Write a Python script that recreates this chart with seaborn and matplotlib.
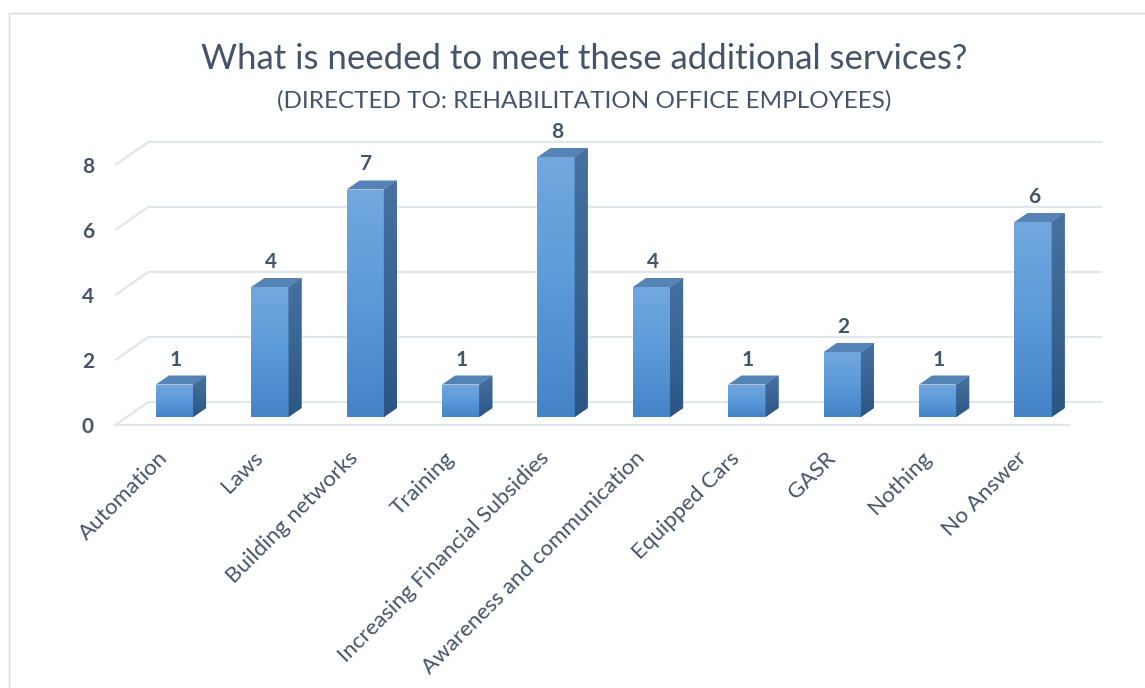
import numpy as np
import pandas as pd
import matplotlib
matplotlib.use("Agg")
import matplotlib.pyplot as plt
import seaborn as sns
from matplotlib.patches import Polygon, Rectangle
from matplotlib.colors import LinearSegmentedColormap

# ---- data -------------------------------------------------------------
categories = ["Automation", "Laws", "Building networks", "Training",
              "Increasing Financial Subsidies", "Awareness and communication",
              "Equipped Cars", "GASR", "Nothing", "No Answer"]
counts = [1, 4, 7, 1, 8, 4, 1, 2, 1, 6]
y_ticks = [0, 2, 4, 6, 8]
title = "What is needed to meet these additional services?"
subtitle = "(DIRECTED TO: REHABILITATION OFFICE EMPLOYEES)"

# ---- figure / style ---------------------------------------------------
W, H, DPI = 1145, 688, 100
sns.set_theme(style="white")
plt.rcParams["font.family"] = ["Lato", "DejaVu Sans"]
TEXT = "#44546a"
GRID = "#e2e5ea"

fig = plt.figure(figsize=(W / DPI, H / DPI), dpi=DPI)
fig.patch.set_facecolor("white")

# plot area (bar plane): category pitch and value scale in pixels
x0_px, unit_x = 174.5, 95.4
base_px, unit_y = 417.0, 32.5
ymax = 9.5
left_px = x0_px - 0.5 * unit_x
ax = fig.add_axes([left_px / W, (H - base_px) / H,
                   10 * unit_x / W, ymax * unit_y / H])

df = pd.DataFrame({"need": categories, "count": counts})
sns.barplot(data=df, x="need", y="count", width=0.39, color="#5b9bd5",
            saturation=1, ax=ax, zorder=3, linewidth=0)
ax.set_xlim(-0.5, len(categories) - 0.5)
ax.set_ylim(0, ymax)
ax.axis("off")


def off(x, y, dx, dy):
    """Data point shifted by a pixel offset, returned in data coords."""
    X, Y = ax.transData.transform((x, y))
    return ax.transData.inverted().transform((X + dx, Y + dy))


FRONT = (-11.5, -8.0)   # front edge of the floor
BACK = (21.5, 15.0)     # back wall
DEPTH = (13.0, 9.0)     # depth of each bar

xl, xr = -0.5, len(categories) - 0.5

# back wall gridlines with the left side-wall diagonals
for v in y_ticks:
    a = off(xl, v, *FRONT)
    b = off(xl, v, *BACK)
    c = off(xr, v, *BACK)
    ax.plot([a[0], b[0], c[0]], [a[1], b[1], c[1]], color=GRID, lw=1.6,
            clip_on=False, zorder=1, solid_capstyle="butt")
# floor front edge
a = off(xl, 0, *FRONT)
b = off(xr, 0, *FRONT)
ax.plot([a[0], b[0]], [a[1], b[1]], color=GRID, lw=1.6, clip_on=False, zorder=1)

front_cmap = LinearSegmentedColormap.from_list("front", ["#4483c6", "#5b9ad9", "#72a8de"])
side_cmap = LinearSegmentedColormap.from_list("side", ["#2b5683", "#3a6593", "#47719f"])
grad = np.linspace(0, 1, 256).reshape(-1, 1)

bars = list(ax.patches)
for bar in bars:
    x, w, h = bar.get_x(), bar.get_width(), bar.get_height()
    # front face gradient
    im = ax.imshow(grad, cmap=front_cmap, origin="lower", aspect="auto",
                   extent=[x, x + w, 0, h], zorder=4, interpolation="bicubic")
    im.set_clip_path(bar)
    # right side face
    p1 = off(x + w, h, *DEPTH)
    p0 = off(x + w, 0, *DEPTH)
    side = Polygon([(x + w, 0), (x + w, h), p1, p0], closed=True,
                   facecolor="#36628f", edgecolor="none", zorder=4, clip_on=False)
    ax.add_patch(side)
    ims = ax.imshow(grad, cmap=side_cmap, origin="lower", aspect="auto",
                    extent=[x + w, p1[0], 0, p1[1]],
                    zorder=4, interpolation="bicubic")
    ims.set_clip_path(side)
    # top face
    q = off(x, h, *DEPTH)
    top = Polygon([(x, h), (x + w, h), p1, q], closed=True,
                  facecolor="#5683b5", edgecolor="none", zorder=5, clip_on=False)
    ax.add_patch(top)

ax.set_xlim(xl, xr)
ax.set_ylim(0, ymax)

# value labels above the bars
for i, v in enumerate(counts):
    ax.annotate(str(v), xy=(i, v), xytext=(1, 25), textcoords="offset pixels",
                ha="center", va="center", fontsize=15, fontweight="bold",
                color=TEXT, annotation_clip=False)

# value axis labels on the front plane
for v in y_ticks:
    ax.annotate(str(v), xy=(xl, v), xytext=(88 - left_px, -10),
                textcoords="offset pixels", ha="center", va="center",
                fontsize=15, fontweight="bold", color=TEXT, annotation_clip=False)

# category labels
for i, cat in enumerate(categories):
    ax.annotate(cat, xy=(i, 0), xytext=(-10, -38), textcoords="offset pixels",
                rotation=45, rotation_mode="anchor", ha="right", va="center",
                fontsize=16, color=TEXT, annotation_clip=False)

# titles
fig.text(584 / W, 1 - 69 / H, title, ha="center", va="baseline",
         fontsize=25, color=TEXT)
fig.text(584 / W, 1 - 108 / H, subtitle, ha="center", va="baseline",
         fontsize=17.5, color=TEXT)

# chart area border
fig.add_artist(Rectangle((9 / W, -0.05), 1.1, 1 - 13 / H + 0.05,
                         transform=fig.transFigure, fill=False,
                         edgecolor="#d9d9d9", linewidth=1.0))

fig.savefig("out.png", dpi=DPI)
